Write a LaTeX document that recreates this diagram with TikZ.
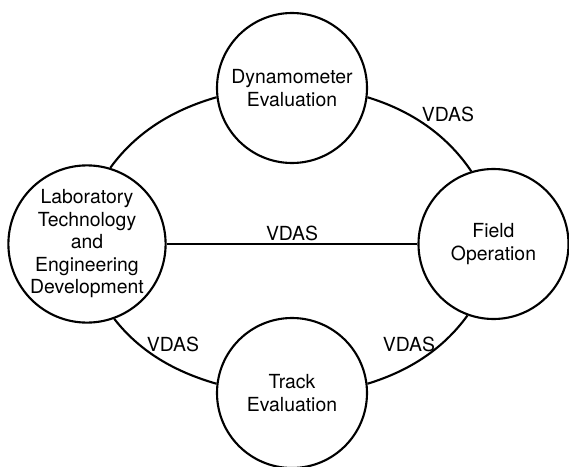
\documentclass[tikz,border=0pt]{standalone}
\usepackage{fontspec}
\setmainfont{TeX Gyre Heros}
\begin{document}
\begin{tikzpicture}[
    unit/.style={circle, draw, line width=1.5pt, minimum size=3.75cm,
      inner sep=0pt, align=center, font=\fontsize{13.8}{16}\selectfont},
    link/.style={line width=1.5pt, looseness=0.9},
    tag/.style={font=\fontsize{13.8}{16}\selectfont, inner sep=1.5pt}
  ]
  \useasboundingbox (0,0) rectangle (14.225,11.65);
  % Four test areas
  \node[unit] (dyno) at (7.3,9.45) {Dynamometer\\Evaluation};
  \node[unit] (lab) at (2.175,5.55) {Laboratory\\Technology\\and\\Engineering\\Development};
  \node[unit] (field) at (12.3375,5.55) {Field\\Operation};
  \node[unit] (track) at (7.3,1.825) {Track\\Evaluation};
  % Outer ring of links
  \draw[link] (lab.73) to[out=54, in=196] (dyno.187);
  \draw[link] (dyno.353) to[out=-17, in=124] (field.107);
  \draw[link] (field.250) to[out=234, in=17] (track.7);
  \draw[link] (track.173) to[out=164, in=-52] (lab.290);
  % Straight link across
  \draw[link, line width=1.3pt] (lab) -- (field)
    node[tag, midway, above] (vdasMid) {VDAS};
  % Link labels
  \node[tag] (vdasTop) at (11.2,8.8) {VDAS};
  \node[tag] (vdasLeft) at (4.325,3.05) {VDAS};
  \node[tag] (vdasRight) at (10.225,3.05) {VDAS};
\end{tikzpicture}
\end{document}
